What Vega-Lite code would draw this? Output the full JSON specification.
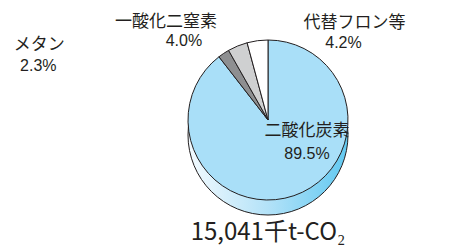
{
  "$schema": "https://vega.github.io/schema/vega-lite/v6.json",
  "autosize": "none",
  "width": 404,
  "height": 200,
  "padding": {"left": 66, "top": 20, "right": 0, "bottom": 29},
  "background": "white",
  "config": {"view": {"stroke": null}},
  "title": {
    "text": "15,041千t-CO₂",
    "orient": "bottom",
    "anchor": "middle",
    "font": "Noto Sans CJK JP",
    "fontSize": 24,
    "fontWeight": "normal",
    "color": "#231f20",
    "baseline": "top",
    "offset": -22
  },
  "data": {
    "values": [
      {"gas": "二酸化炭素", "value": 89.5, "order": 1, "pct": "89.5%"},
      {"gas": "メタン", "value": 2.3, "order": 2, "pct": "2.3%"},
      {"gas": "一酸化二窒素", "value": 4.0, "order": 3, "pct": "4.0%"},
      {"gas": "代替フロン等", "value": 4.2, "order": 4, "pct": "4.2%"}
    ]
  },
  "layer": [
    {
      "mark": {
        "type": "arc",
        "outerRadius": 80,
        "yOffset": 15,
        "stroke": "#231f20",
        "strokeWidth": 1,
        "color": {
          "gradient": "linear",
          "x1": 0, "y1": 0, "x2": 1, "y2": 0,
          "stops": [
            {"offset": 0, "color": "#f3fafe"},
            {"offset": 0.5, "color": "#b3e2f8"},
            {"offset": 1, "color": "#62c9f1"}
          ]
        }
      },
      "encoding": {
        "theta": {"aggregate": "sum", "field": "value", "type": "quantitative"}
      }
    },
    {
      "mark": {"type": "arc", "outerRadius": 80, "stroke": "#231f20", "strokeWidth": 1},
      "encoding": {
        "theta": {"field": "value", "type": "quantitative", "stack": true},
        "order": {"field": "order", "type": "quantitative"},
        "color": {
          "field": "gas",
          "type": "nominal",
          "scale": {
            "domain": ["二酸化炭素", "メタン", "一酸化二窒素", "代替フロン等"],
            "range": ["#a9dff8", "#8e8f91", "#cfd0d1", "#ffffff"]
          },
          "legend": null
        }
      }
    },
    {
      "mark": {"type": "text", "radius": 95, "dx": -176, "dy": 4, "font": "Noto Sans CJK JP", "fontSize": 17, "color": "#231f20", "align": "center", "baseline": "middle"},
      "encoding": {
        "theta": {"field": "value", "type": "quantitative", "stack": true},
        "order": {"field": "order", "type": "quantitative"},
        "text": {"condition": {"test": "datum.gas === 'メタン'", "field": "gas", "type": "nominal"}, "value": ""}
      }
    },
    {
      "mark": {"type": "text", "radius": 95, "dx": -177, "dy": 25, "font": "Liberation Sans", "fontSize": 16, "color": "#231f20", "align": "center", "baseline": "middle"},
      "encoding": {
        "theta": {"field": "value", "type": "quantitative", "stack": true},
        "order": {"field": "order", "type": "quantitative"},
        "text": {"condition": {"test": "datum.gas === 'メタン'", "field": "pct", "type": "nominal"}, "value": ""}
      }
    },
    {
      "mark": {"type": "text", "radius": 95, "dx": -66, "dy": -10, "font": "Noto Sans CJK JP", "fontSize": 17, "color": "#231f20", "align": "center", "baseline": "middle"},
      "encoding": {
        "theta": {"field": "value", "type": "quantitative", "stack": true},
        "order": {"field": "order", "type": "quantitative"},
        "text": {"condition": {"test": "datum.gas === '一酸化二窒素'", "field": "gas", "type": "nominal"}, "value": ""}
      }
    },
    {
      "mark": {"type": "text", "radius": 95, "dx": -48, "dy": 9, "font": "Liberation Sans", "fontSize": 16, "color": "#231f20", "align": "center", "baseline": "middle"},
      "encoding": {
        "theta": {"field": "value", "type": "quantitative", "stack": true},
        "order": {"field": "order", "type": "quantitative"},
        "text": {"condition": {"test": "datum.gas === '一酸化二窒素'", "field": "pct", "type": "nominal"}, "value": ""}
      }
    },
    {
      "mark": {"type": "text", "radius": 95, "dx": 99, "dy": -3, "font": "Noto Sans CJK JP", "fontSize": 17, "color": "#231f20", "align": "center", "baseline": "middle"},
      "encoding": {
        "theta": {"field": "value", "type": "quantitative", "stack": true},
        "order": {"field": "order", "type": "quantitative"},
        "text": {"condition": {"test": "datum.gas === '代替フロン等'", "field": "gas", "type": "nominal"}, "value": ""}
      }
    },
    {
      "mark": {"type": "text", "radius": 95, "dx": 88, "dy": 17, "font": "Liberation Sans", "fontSize": 16, "color": "#231f20", "align": "center", "baseline": "middle"},
      "encoding": {
        "theta": {"field": "value", "type": "quantitative", "stack": true},
        "order": {"field": "order", "type": "quantitative"},
        "text": {"condition": {"test": "datum.gas === '代替フロン等'", "field": "pct", "type": "nominal"}, "value": ""}
      }
    },
    {
      "mark": {"type": "text", "radius": 40, "dx": 26, "dy": -27, "font": "Noto Sans CJK JP", "fontSize": 17, "color": "#231f20", "align": "center", "baseline": "middle"},
      "encoding": {
        "theta": {"field": "value", "type": "quantitative", "stack": true},
        "order": {"field": "order", "type": "quantitative"},
        "text": {"condition": {"test": "datum.gas === '二酸化炭素'", "field": "gas", "type": "nominal"}, "value": ""}
      }
    },
    {
      "mark": {"type": "text", "radius": 40, "dx": 26, "dy": -4, "font": "Liberation Sans", "fontSize": 16, "color": "#231f20", "align": "center", "baseline": "middle"},
      "encoding": {
        "theta": {"field": "value", "type": "quantitative", "stack": true},
        "order": {"field": "order", "type": "quantitative"},
        "text": {"condition": {"test": "datum.gas === '二酸化炭素'", "field": "pct", "type": "nominal"}, "value": ""}
      }
    }
  ]
}
